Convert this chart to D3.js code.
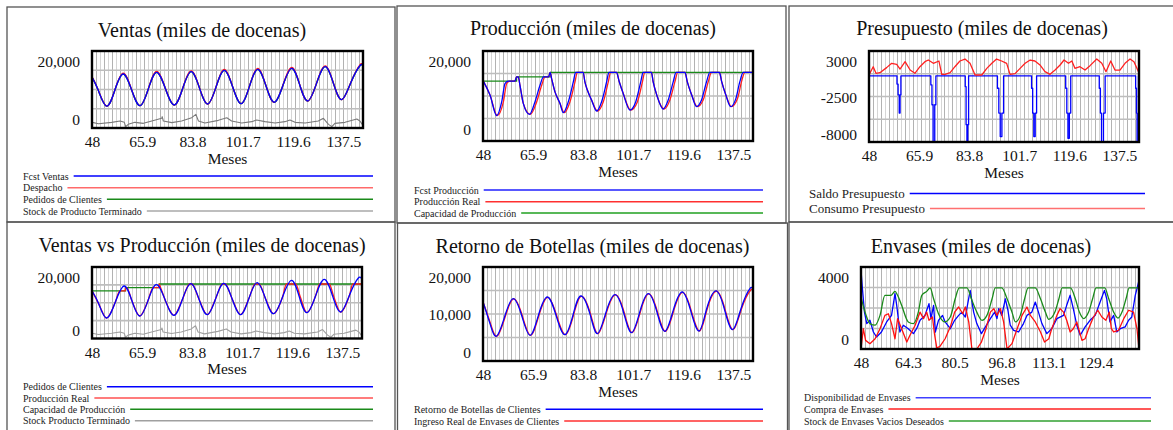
<!DOCTYPE html>
<html><head><meta charset="utf-8">
<script src="https://cdn.jsdelivr.net/npm/d3@7"></script>
<style>
body{margin:0;background:#fff;}
svg{display:block;font-family:"Liberation Serif","Times New Roman",serif;}
</style>
</head><body>
<script>
// ---------- shared ticks ----------
const monthTicksA = [48, 65.9, 83.8, 101.7, 119.6, 137.5];
const monthTicksB = [48, 64.3, 80.5, 96.8, 113.1, 129.4];
const xDomain = [48, 144.5];

// ---------- Panel 1: Ventas ----------
const ventasT = [48.1,50.2,53.2,56.15,59.1,62.1,65.1,68.05,71.0,74.15,77.3,80.3,83.3,86.25,89.2,92.15,95.1,98.1,101.1,104.05,107.0,109.95,112.9,116.0,119.1,121.95,124.8,127.9,131.0,133.95,136.9,140.15,143.4,144.5];
const fcstVentas = [13100,9850,5700,9860,14020,9910,5800,10130,14460,10215,5970,10300,14630,10430,6230,10605,14980,10650,6320,10780,15240,10955,6670,11085,15500,11255,7010,11470,15930,11640,7350,11765,16180,15900];
const despacho = [13150,9900,5700,9900,14240,9950,5800,10150,14680,10250,5970,10330,14850,10460,6230,10640,15200,10690,6320,10820,15460,11000,6670,11130,15720,11300,7010,11510,16150,11690,7350,11810,16400,16050];
const pedidosVentas = fcstVentas.slice();
const stockT = [48.1,50.3,55.0,58.0,59.5,60.0,60.9,63.3,66.3,69.3,72.8,73.0,73.4,76.4,79.9,83.5,85.0,85.9,88.2,93.0,96.0,97.7,101.3,104.9,106.6,109.6,113.2,116.7,118.5,120.3,123.9,128.6,130.4,132.2,133.4,134.5,138.1,142.3,143.4,144.3];
const stockPT = [1470,1120,1470,1820,1470,350,950,1470,1210,1820,2510,2940,1820,1390,1820,2680,3550,1820,1300,1990,2680,1820,1300,1650,2080,1650,1300,1650,2080,1470,1300,1820,2510,950,350,1210,1470,2340,1820,870];

// ---------- Panel 2: Producción ----------
const prodT = [48.1,50.5,52.9,54.7,55.9,57.1,59.4,60.0,60.6,61.2,62.4,64.6,66.6,68.4,69.6,71.4,72.0,72.5,73.7,75.5,76.7,78.5,80.3,81.1,83.8,84.4,85.3,86.8,88.6,90.4,92.2,93.0,95.7,96.7,98.1,100.5,102.6,104.4,105.2,108.2,108.8,110.1,112.4,114.2,116.0,117.0,120.2,121.0,122.6,124.3,126.1,127.9,129.1,132.5,133.3,134.8,136.5,138.4,139.8,141.0,144.5];
const fcstProd = [13300,10220,5630,8740,12820,13300,13300,14250,14250,12440,8370,5930,8740,12440,14250,14250,15250,13930,10960,8370,6300,8740,13180,15250,15250,13180,11330,9110,6670,8740,13180,15250,15250,13180,10590,6890,8740,13180,15250,15250,13180,10220,7110,9110,13180,15250,15250,13180,10220,7630,9110,13180,15250,15250,13180,10220,7630,9480,13180,15250,15250];
const realT = [48.1,50.5,53.1,55.3,56.5,57.7,59.4,60.0,60.6,61.2,62.4,64.9,67.2,69.0,70.2,71.4,72.0,72.5,73.7,75.5,77.0,79.1,80.9,81.7,83.8,84.4,85.3,86.8,88.9,91.0,92.8,93.6,95.7,96.7,98.1,100.8,103.2,105.0,105.8,108.2,108.8,110.1,112.7,114.8,116.6,117.6,120.2,121.0,122.6,124.6,126.7,128.5,129.7,132.5,133.3,134.8,136.8,139.0,140.4,141.6,144.5];
const realProd = fcstProd.slice();
const capT = [48, 60, 60, 72, 72, 144.5];
const capacidad = [13300, 13300, 14250, 14250, 15250, 15250];

// ---------- Panel 3: Presupuesto ----------
const saldoT = [48,58.0,58.4,58.8,59.1,59.4,70.1,70.5,70.9,71.5,71.9,82.4,82.7,83.0,83.3,83.6,93.9,94.4,94.9,95.5,96.1,106.1,106.5,106.9,107.4,107.9,118.3,118.7,119.1,119.6,120.1,130.3,130.7,131.1,131.8,132.4,143.3,143.6,143.8,144.3,144.5];
const saldo = [0,-1000,-2300,-4500,-2300,0,-1100,-3500,-9000,-3500,0,-1300,-5900,-9000,-5900,0,-1500,-4500,-7350,-4500,0,-1500,-4500,-7350,-4500,0,-1500,-4500,-7560,-4500,0,-1500,-4500,-9000,-4500,0,-1500,-4500,-9000,0,0];
const consT = [48.1,49.5,50.5,51.9,54.3,56.1,57.9,59.1,60.9,62.7,64.4,66.2,68.0,69.2,71.0,73.0,74.0,75.2,77.0,78.7,80.5,82.3,84.1,85.9,88.3,90.1,91.9,93.6,95.4,97.2,98.4,100.2,102.0,103.8,105.6,107.3,109.1,110.9,112.7,114.5,116.3,117.7,119.3,120.5,121.6,123.4,125.2,127.0,129.4,131.2,132.7,134.4,135.9,137.7,139.5,141.3,142.7,144.3];
const consumo = [180,1100,300,380,990,1510,1390,820,1710,700,300,1100,1710,1910,1510,1790,180,180,380,1100,1790,2030,1510,100,100,900,1510,2030,1790,1510,180,260,900,1510,1910,1790,1310,500,180,700,1310,1910,1510,1790,900,1100,700,1230,2030,1510,500,1790,700,700,1510,2030,1710,500];

// ---------- Panel 4: Ventas vs Producción ----------
const pedT = [48.1,50.4,53.2,56.35,59.5,62.3,65.1,68.05,71.0,74.15,77.3,80.3,83.3,86.25,89.2,92.15,95.1,98.1,101.1,104.05,107.0,109.95,112.9,116.1,119.3,122.05,124.8,127.9,131.0,133.95,136.9,140.05,143.2,144.5];
const pedidos = [13200,9700,5730,10205,14680,10485,6290,10670,15050,10770,6490,10910,15330,10995,6660,11050,15440,11050,6660,11135,15610,11275,6940,11605,16270,11745,7220,11885,16550,11980,7410,12165,16920,16300];
const real4T = [48.1,50.4,53.2,56.35,57.9,59.9,60.0,60.4,62.3,65.1,68.05,69.8,71.9,72.0,72.5,74.15,77.3,80.3,82.9,83.7,86.25,89.2,92.15,94.6,95.6,98.1,101.1,104.05,106.3,107.7,109.95,112.9,116.1,117.5,120.8,122.4,124.8,127.9,129.4,132.8,134.3,136.9,140.05,141.2,144.5];
const real4 = [13200,9700,5730,10205,13300,13300,14250,14250,10485,6290,10670,14250,14250,15250,14300,10770,6490,10910,15250,15250,10995,6660,11050,15250,15250,11050,6660,11135,15250,15250,11275,6940,11605,15250,15250,11745,7220,11885,15250,15250,11980,7410,12165,15250,15250];

// ---------- Panel 5: Retorno de Botellas ----------
const retT = [48.1,50.5,52.9,55.9,58.8,61.8,64.8,67.8,71.0,74.1,77.3,80.3,83.0,86.2,88.9,92.0,95.2,98.2,101.1,104.1,107.1,110.1,113.0,116.0,119.2,122.2,125.2,127.9,131.3,134.3,137.2,140.2,143.4,144.5];
const retorno = [12410,7940,5320,9720,13260,9720,5470,9720,13620,9720,5600,10070,13830,10070,5810,10430,14110,10430,6030,10570,14330,10570,6310,10780,14680,10780,6380,11000,14900,11000,6670,11130,15390,15000];
const ingT = [48.1,50.7,53.1,56.1,59.0,62.0,65.0,68.0,71.2,74.3,77.5,80.5,83.2,86.4,89.1,92.2,95.4,98.4,101.3,104.3,107.3,110.3,113.2,116.2,119.4,122.4,125.4,128.1,131.5,134.5,137.4,140.4,143.6,144.5];
const ingreso = [12410,7940,5320,9720,13200,9720,5470,9720,13550,9720,5600,10070,13760,10070,5810,10430,14050,10430,6030,10570,14270,10570,6310,10780,14620,10780,6380,11000,14840,11000,6670,11130,15050,14800];

// ---------- Panel 6: Envases ----------
const dispT = [48.0,48.5,49.2,50.0,51.1,52.3,53.4,55.1,56.9,58.6,59.8,60.4,61.5,62.7,64.4,66.2,67.3,68.5,70.2,71.6,72.3,73.2,73.8,74.9,76.3,77.2,79.0,80.5,81.9,83.0,84.2,85.9,87.1,88.2,89.8,91.2,92.9,94.4,95.2,95.8,96.9,98.1,99.0,99.8,101.0,102.7,104.4,105.6,107.3,108.5,109.6,110.8,112.5,114.2,116.0,118.3,119.4,120.6,121.7,122.9,124.1,125.8,127.5,129.3,131.0,132.5,133.3,134.4,135.7,136.8,138.0,139.7,140.9,142.0,143.2,144.1,144.5];
const disponibilidad = [3840,2940,1800,1240,1400,830,585,830,1320,1640,2700,2130,830,1160,990,750,990,1400,1640,2210,1480,2130,830,1400,1640,1320,990,1400,1640,1800,1560,2860,1800,1240,750,1080,1480,1800,1480,1970,1640,2450,1890,1160,910,830,1240,1640,1800,2290,1800,1240,750,990,1480,1640,2130,2620,1970,1160,670,1080,1400,1640,2290,2860,2450,1320,1640,830,990,1080,1400,1560,2620,3110,3350];
const compraT = [48.0,48.8,49.6,51.1,52.9,54.6,56.3,57.5,58.6,59.8,60.7,62.1,63.9,65.0,66.8,68.5,69.7,70.8,71.6,72.8,73.5,74.3,75.4,77.2,79.0,80.5,81.9,83.3,84.2,85.4,86.5,88.2,89.8,91.4,92.9,94.1,95.2,96.4,97.5,98.7,100.4,102.2,103.9,105.6,106.8,108.5,110.3,111.7,113.2,114.2,116.0,117.1,118.3,119.4,120.6,121.7,122.9,124.7,125.8,127.0,128.7,130.2,131.6,133.0,134.2,134.9,135.7,137.4,139.2,140.9,142.6,143.8,144.5];
const compra = [0,990,420,260,500,990,1640,1720,1240,500,1480,990,340,670,1160,1800,1480,1800,1400,1560,750,50,130,500,1080,1800,2050,1720,2050,1320,0,0,340,990,1800,1970,1640,1970,1320,0,260,990,1640,2050,1640,1320,830,340,500,990,1640,1970,1800,1400,830,990,1320,420,500,990,1560,1890,1560,1400,1800,990,830,910,1480,1890,1800,990,0];
const deseT = [48.0,49.4,51.1,52.9,54.6,56.3,58.4,59.8,60.7,62.1,64.4,66.2,67.9,69.1,70.8,72.0,73.2,74.9,77.0,79.0,80.7,82.1,84.8,86.3,88.2,90.0,91.7,93.5,94.6,96.9,98.7,100.4,101.6,103.3,104.8,106.0,108.5,110.3,112.0,113.2,115.3,116.7,117.8,120.7,122.4,123.8,125.3,127.0,128.4,129.6,132.6,134.0,135.7,137.2,138.6,140.0,141.1,144.5];
const deseado = [2540,1800,1240,1160,1640,2620,2620,2810,2620,2130,1320,1240,1800,2620,2810,2980,2450,1720,1320,1560,2450,2980,2980,2450,1800,1400,1640,2450,2980,2980,2450,1800,1320,1640,2450,2980,2980,2450,1800,1450,1800,2450,2980,2980,2450,1800,1480,1800,2450,2980,2980,2450,1800,1510,1800,2450,2980,2980];

// ---------- drawing ----------
const W = 1173, H = 430;
const svg = d3.select("body").append("svg").attr("width", W).attr("height", H);
const fmtComma = d3.format(",");
const fmtPlain = d => String(d);
const gridStep = 1.42;
let clipId = 0;

function drawPanel(p) {
  const g = svg.append("g");
  g.append("rect").attr("x", p.frame[0]).attr("y", p.frame[1])
    .attr("width", p.frame[2]).attr("height", p.frame[3])
    .attr("fill", "none").attr("stroke", "#555").attr("stroke-width", 1.3);

  g.append("text").attr("x", p.titleX).attr("y", p.titleY)
    .attr("text-anchor", "middle").attr("font-size", 20).attr("fill", "#111")
    .text(p.title);

  const x = d3.scaleLinear().domain(xDomain).range([p.px0, p.px1]);
  const y = d3.scaleLinear().domain(p.yDomain).range([p.py1, p.py0]);

  const vg = d3.range(xDomain[0] + gridStep, xDomain[1] - 0.3, gridStep);
  g.append("g").selectAll("line").data(vg).join("line")
    .attr("x1", d => Math.round(x(d)) + 0.5).attr("x2", d => Math.round(x(d)) + 0.5)
    .attr("y1", p.py0).attr("y2", p.py1)
    .attr("stroke", (d, i) => i % 2 ? "#d6d6d6" : "#b2b2b2").attr("stroke-width", 1);

  const [d0, d1] = p.yDomain;
  const hg = [0.25, 0.5, 0.75].map(f => d0 + f * (d1 - d0));
  g.append("g").selectAll("line").data(hg).join("line")
    .attr("x1", p.px0).attr("x2", p.px1)
    .attr("y1", d => y(d)).attr("y2", d => y(d))
    .attr("stroke", "#bdbdbd").attr("stroke-width", 1.6);

  const id = "clip" + (clipId++);
  svg.append("clipPath").attr("id", id).append("rect")
    .attr("x", p.px0).attr("y", p.py0).attr("width", p.px1 - p.px0).attr("height", p.py1 - p.py0);
  const sg = g.append("g").attr("clip-path", `url(#${id})`);
  p.series.forEach(s => {
    const line = d3.line().x(d => x(d[0])).y(d => y(d[1])).curve(s.curve || d3.curveLinear);
    sg.append("path").datum(d3.zip(s.t, s.v)).attr("d", line)
      .attr("fill", "none").attr("stroke", s.color).attr("stroke-width", s.w || 1.3)
      .attr("stroke-linejoin", "round");
  });

  g.append("rect").attr("x", p.px0).attr("y", p.py0)
    .attr("width", p.px1 - p.px0).attr("height", p.py1 - p.py0)
    .attr("fill", "none").attr("stroke", "#000").attr("stroke-width", 2.4);

  const ya = g.append("g").attr("transform", `translate(${p.px0},0)`)
    .call(d3.axisLeft(y).tickValues(p.yTicks).tickFormat(p.yFmt).tickSize(0).tickPadding(12));
  ya.select(".domain").remove();
  ya.attr("font-family", null).attr("font-size", 15.5);
  ya.selectAll("text").attr("fill", "#111").attr("dy", d => {
    if (d === p.yDomain[1]) return "15px";
    if (d === p.yDomain[0]) return p.botOff + "px";
    return "5.5px";
  }).attr("y", 0);

  const xa = g.append("g").attr("transform", `translate(0,${p.py1})`)
    .call(d3.axisBottom(x).tickValues(p.xTicks).tickFormat(d => String(d)).tickSize(0));
  xa.select(".domain").remove();
  xa.attr("font-family", null).attr("font-size", 15.5);
  xa.selectAll("text").attr("fill", "#111").attr("y", 19).attr("dy", null);

  g.append("text").attr("x", (p.px0 + p.px1) / 2).attr("y", p.py1 + 35.5)
    .attr("text-anchor", "middle").attr("font-size", 15.5).attr("fill", "#111").text("Meses");

  p.legend.items.forEach((it, i) => {
    const ly = p.legend.ys[i];
    const t = g.append("text").attr("x", p.legend.x).attr("y", ly + p.legend.fs * 0.35)
      .attr("font-size", p.legend.fs).attr("fill", "#222").text(it.label);
    const tw = t.node().getComputedTextLength();
    g.append("line").attr("x1", p.legend.x + tw + 5).attr("x2", p.legend.xEnd)
      .attr("y1", ly).attr("y2", ly).attr("stroke", it.color).attr("stroke-width", 1.5);
  });
}

const mono = d3.curveMonotoneX;
const smooth = d3.curveNatural;

drawPanel({
  frame: [7, 7, 388, 215], title: "Ventas (miles de docenas)", titleX: 202, titleY: 37,
  px0: 92, px1: 363, py0: 51, py1: 128, yDomain: [0, 20000], yTicks: [0, 20000], yFmt: fmtComma, botOff: -4,
  xTicks: monthTicksA,
  series: [
    {t: stockT, v: stockPT, color: "#7a7a7a", w: 1.1},
    {t: ventasT, v: pedidosVentas, color: "#008000", curve: smooth},
    {t: ventasT, v: despacho, color: "#ff2020", curve: smooth},
    {t: ventasT, v: fcstVentas, color: "#0000ff", curve: smooth}
  ],
  legend: {x: 23, xEnd: 373, fs: 10, ys: [176, 187.7, 199.3, 211], items: [
    {label: "Fcst Ventas", color: "#0000ff"},
    {label: "Despacho", color: "#ff6a6a"},
    {label: "Pedidos de Clientes", color: "#1a8a1a"},
    {label: "Stock de Producto Terminado", color: "#a8a8a8"}
  ]}
});

drawPanel({
  frame: [397, 6, 389, 217], title: "Producción (miles de docenas)", titleX: 593, titleY: 35,
  px0: 483, px1: 753, py0: 51, py1: 141, yDomain: [0, 20000], yTicks: [0, 20000], yFmt: fmtComma, botOff: -7,
  xTicks: monthTicksA,
  series: [
    {t: capT, v: capacidad, color: "#1a8a1a"},
    {t: realT, v: realProd, color: "#ff2020", curve: mono},
    {t: prodT, v: fcstProd, color: "#0000ff", curve: mono}
  ],
  legend: {x: 414, xEnd: 763, fs: 10, ys: [190, 201.7, 213], items: [
    {label: "Fcst Producción", color: "#2020ff"},
    {label: "Producción Real", color: "#ff3030"},
    {label: "Capacidad de Producción", color: "#20a020"}
  ]}
});

drawPanel({
  frame: [789, 6, 390, 216], title: "Presupuesto (miles de docenas)", titleX: 982, titleY: 35,
  px0: 869, px1: 1139, py0: 51, py1: 142, yDomain: [-8000, 3000], yTicks: [-8000, -2500, 3000], yFmt: fmtPlain, botOff: -3,
  xTicks: monthTicksA,
  series: [
    {t: saldoT, v: saldo, color: "#0000ff", curve: d3.curveStepAfter},
    {t: consT, v: consumo, color: "#ff2020"}
  ],
  legend: {x: 809, xEnd: 1145, fs: 13, ys: [193.5, 208.5], items: [
    {label: "Saldo Presupuesto", color: "#0000ff"},
    {label: "Consumo Presupuesto", color: "#ff7070"}
  ]}
});

drawPanel({
  frame: [7, 222, 388, 215], title: "Ventas vs Producción (miles de docenas)", titleX: 202, titleY: 252,
  px0: 92, px1: 362, py0: 267, py1: 338.5, yDomain: [0, 20000], yTicks: [0, 20000], yFmt: fmtComma, botOff: -3.5,
  xTicks: monthTicksA,
  series: [
    {t: stockT, v: stockPT, color: "#a0a0a0", w: 1.1},
    {t: capT, v: capacidad, color: "#1a8a1a"},
    {t: real4T, v: real4, color: "#ff2020", curve: mono},
    {t: pedT, v: pedidos, color: "#0000ff", curve: smooth}
  ],
  legend: {x: 23, xEnd: 373, fs: 10, ys: [386.7, 398, 409.3, 420.7], items: [
    {label: "Pedidos de Clientes", color: "#0000ff"},
    {label: "Producción Real", color: "#ff5050"},
    {label: "Capacidad de Producción", color: "#1a8a1a"},
    {label: "Stock Producto Terminado", color: "#a0a0a0"}
  ]}
});

drawPanel({
  frame: [397.5, 223, 390, 215], title: "Retorno de Botellas (miles de docenas)", titleX: 592.5, titleY: 252.5,
  px0: 483, px1: 753, py0: 267, py1: 361, yDomain: [0, 20000], yTicks: [0, 10000, 20000], yFmt: fmtComma, botOff: -4,
  xTicks: monthTicksA,
  series: [
    {t: ingT, v: ingreso, color: "#ff2020", curve: smooth},
    {t: retT, v: retorno, color: "#0000ff", curve: smooth}
  ],
  legend: {x: 414, xEnd: 763, fs: 10, ys: [409.3, 421], items: [
    {label: "Retorno de Botellas de Clientes", color: "#0000ff"},
    {label: "Ingreso Real de Envases de Clientes", color: "#ff3030"}
  ]}
});

drawPanel({
  frame: [789, 222, 390, 215], title: "Envases (miles de docenas)", titleX: 981, titleY: 253,
  px0: 861, px1: 1139, py0: 267, py1: 349, yDomain: [0, 4000], yTicks: [0, 4000], yFmt: fmtPlain, botOff: -5,
  xTicks: monthTicksB,
  series: [
    {t: dispT, v: disponibilidad, color: "#0000ff"},
    {t: compraT, v: compra, color: "#ff1010"},
    {t: deseT, v: deseado, color: "#1a8a1a", curve: mono}
  ],
  legend: {x: 804, xEnd: 1151, fs: 10, ys: [397.7, 409, 421], items: [
    {label: "Disponibilidad de Envases", color: "#4040ff"},
    {label: "Compra de Envases", color: "#ff2020"},
    {label: "Stock de Envases Vacios Deseados", color: "#30a030"}
  ]}
});
</script>
</body></html>
